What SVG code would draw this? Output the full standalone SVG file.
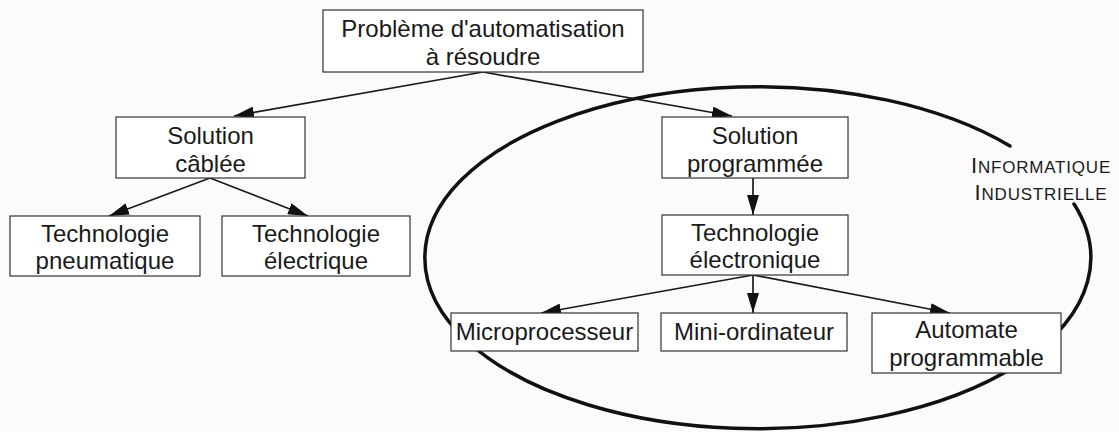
<svg xmlns="http://www.w3.org/2000/svg" width="1119" height="432" viewBox="0 0 1119 432">
  <style>
    .box { fill: #ffffff; stroke: #333333; stroke-width: 1.2; }
    .lbl { font-family: "Liberation Sans", Arial, sans-serif; font-size: 24px; fill: #1a1a1a; text-anchor: middle; }
    .edge { fill: none; stroke: #1a1a1a; stroke-width: 1.7; marker-end: url(#arrow); }
    .loop { fill: none; stroke: #111111; stroke-width: 3.5; stroke-linecap: round; }
    .tag { font-family: "Liberation Sans", Arial, sans-serif; fill: #1a1a1a; text-anchor: middle; letter-spacing: 0.8px; }
  </style>
  <defs>
    <marker id="arrow" markerUnits="userSpaceOnUse" markerWidth="20" markerHeight="12" refX="20" refY="6" orient="auto">
      <path d="M0,0 L20,6 L0,12 Z" fill="#111111"/>
    </marker>
  </defs>

  <rect width="1119" height="432" fill="#fbfbfb"/>

  <!-- industrial computing boundary -->
  <g id="informatique-industrielle">
    <path class="loop" d="M1074,204 A333,171 0 1 1 1010,146"/>
    <text class="tag" x="1041" y="173"><tspan font-size="22">I</tspan><tspan font-size="17">NFORMATIQUE</tspan></text>
    <text class="tag" x="1041" y="200"><tspan font-size="22">I</tspan><tspan font-size="17">NDUSTRIELLE</tspan></text>
  </g>

  <!-- connectors -->
  <g id="connectors">
    <line class="edge" x1="483" y1="72" x2="234" y2="116"/>
    <line class="edge" x1="483" y1="72" x2="732" y2="116"/>
    <line class="edge" x1="210" y1="178" x2="109" y2="216"/>
    <line class="edge" x1="210" y1="178" x2="308" y2="216"/>
    <line class="edge" x1="753" y1="178" x2="753" y2="215"/>
    <line class="edge" x1="753" y1="275" x2="541" y2="313"/>
    <line class="edge" x1="753" y1="275" x2="753" y2="313"/>
    <line class="edge" x1="753" y1="275" x2="950" y2="313"/>
  </g>

  <g id="probleme">
    <rect class="box" x="323" y="10" width="320" height="62"/>
    <text class="lbl" x="483" y="37">Problème d'automatisation</text>
    <text class="lbl" x="483" y="65">à résoudre</text>
  </g>

  <g id="solution-cablee">
    <rect class="box" x="116" y="117" width="189" height="61"/>
    <text class="lbl" x="210.5" y="144">Solution</text>
    <text class="lbl" x="210.5" y="172">câblée</text>
  </g>

  <g id="solution-programmee">
    <rect class="box" x="662" y="117" width="186" height="61"/>
    <text class="lbl" x="755" y="144">Solution</text>
    <text class="lbl" x="755" y="172">programmée</text>
  </g>

  <g id="techno-pneumatique">
    <rect class="box" x="10" y="216" width="190" height="60"/>
    <text class="lbl" x="105" y="242">Technologie</text>
    <text class="lbl" x="105" y="269">pneumatique</text>
  </g>

  <g id="techno-electrique">
    <rect class="box" x="222" y="216" width="188" height="60"/>
    <text class="lbl" x="316" y="242">Technologie</text>
    <text class="lbl" x="316" y="269">électrique</text>
  </g>

  <g id="techno-electronique">
    <rect class="box" x="662" y="215" width="186" height="60"/>
    <text class="lbl" x="755" y="241">Technologie</text>
    <text class="lbl" x="755" y="268">électronique</text>
  </g>

  <g id="microprocesseur">
    <rect class="box" x="451" y="313" width="187" height="38"/>
    <text class="lbl" x="544.5" y="340">Microprocesseur</text>
  </g>

  <g id="mini-ordinateur">
    <rect class="box" x="661" y="313" width="186" height="38"/>
    <text class="lbl" x="754" y="340">Mini-ordinateur</text>
  </g>

  <g id="automate">
    <rect class="box" x="872" y="313" width="189" height="60"/>
    <text class="lbl" x="966.5" y="338">Automate</text>
    <text class="lbl" x="966.5" y="366">programmable</text>
  </g>
</svg>
